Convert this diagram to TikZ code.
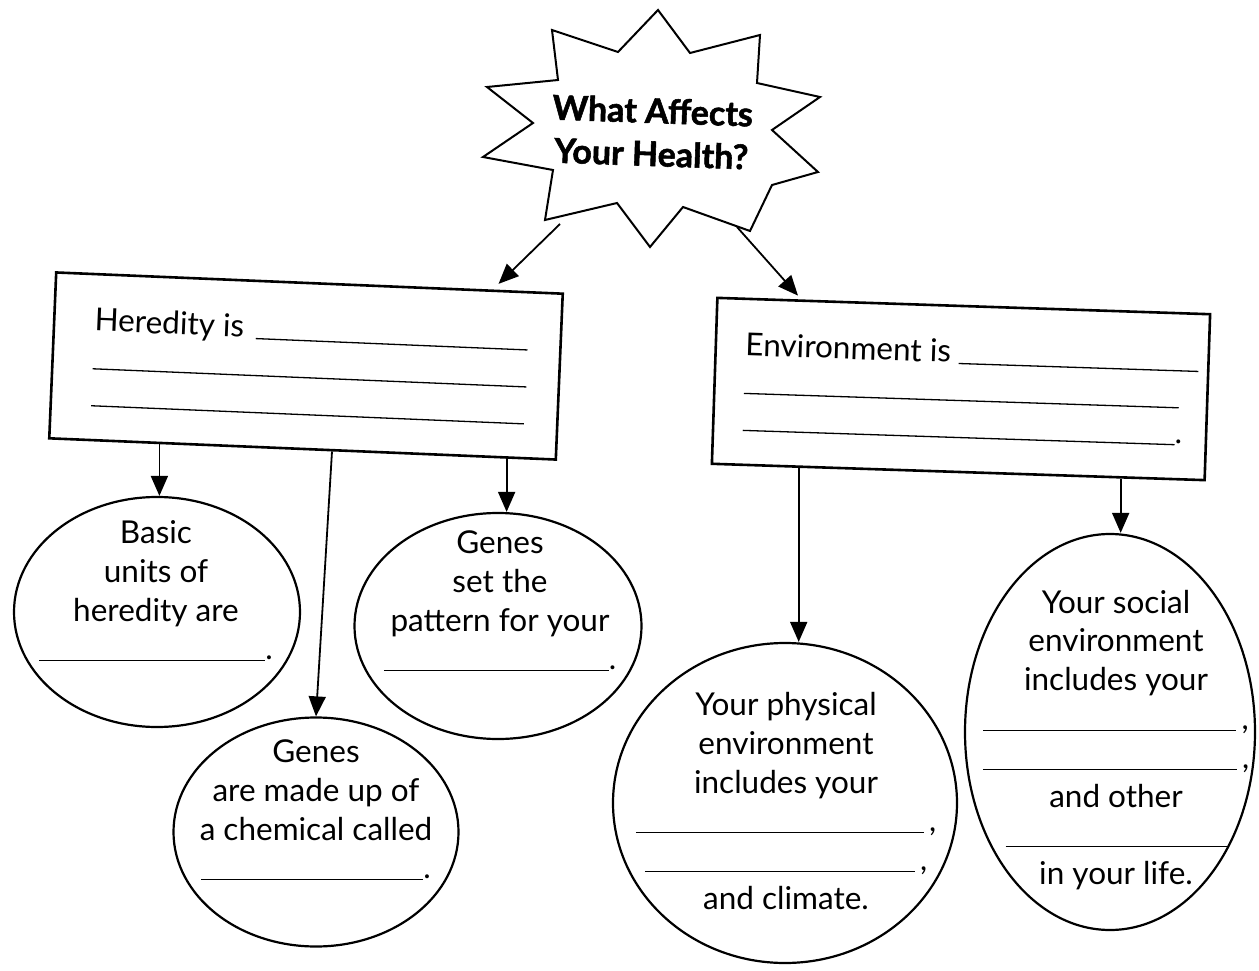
\documentclass[tikz,border=0pt]{standalone}
\usepackage{fontspec}
\setmainfont{Lato}
\usetikzlibrary{arrows.meta, calc, shapes.geometric}

% blank answer line, length in pt
\newcommand{\blank}[1]{\rule[-1.5pt]{#1pt}{1.3pt}}

\tikzset{
  topicbox/.style={
    draw, line width=2.6pt, align=left, inner sep=0pt,
    minimum height=166pt, fill=white,
    font=\fontsize{31.5}{37}\selectfont
  },
  bubble/.style={
    ellipse, draw, line width=2.2pt, inner sep=0pt
  },
  bubbletext/.style={
    align=center, inner sep=0pt,
    font=\fontsize{31.5}{38.8}\selectfont
  },
  burst/.style={
    draw, line width=2pt, line join=miter, fill=white
  },
  flow/.style={
    -{Triangle[length=20pt, width=17pt]}, line width=1.8pt
  },
}

\begin{document}
\begin{tikzpicture}[x=1pt, y=-1pt]
  \useasboundingbox (0,0) rectangle (1259,971);

  % --- title burst ---
  \draw[burst] (658,10) -- (690,53) -- (760,35) -- (757,83) -- (820,97)
    -- (772,130) -- (818,172) -- (772,185) -- (750,231) -- (683,207)
    -- (650,247) -- (617,203) -- (545,220) -- (553,170) -- (483,157)
    -- (533,123) -- (487,87) -- (558,80) -- (552,30) -- (618,52) -- cycle;
  \node[font=\fontsize{34}{43}\selectfont\bfseries\addfontfeatures{FakeBold=1.6},
    align=center, rotate=-2]
    (health) at (652,132) {What Affects\\Your Health?};
  \coordinate (starL) at (560,224);
  \coordinate (starR) at (737,227);

  % --- the two topic boxes ---
  \node[topicbox, minimum width=507pt, rotate=-2.4] (heredity) at (306,366)
    {\hspace*{8pt}Heredity is\hspace{12pt}\blank{272}\\
     \hspace*{8pt}\blank{434}\\
     \hspace*{8pt}\blank{433}};
  \node[topicbox, minimum width=493pt, rotate=-1.9] (environment) at (961,389)
    {\hspace*{20pt}Environment is\hspace{8pt}\blank{240}\\
     \hspace*{20pt}\blank{435}\\
     \hspace*{20pt}\blank{432}.};

  % --- heredity bubbles ---
  \node[bubble, minimum width=286pt, minimum height=230pt] (basic) at (157,612) {};
  \node[bubbletext] (basictxt) at (156,591)
    {Basic\\units of\\heredity are\\\blank{226}.};

  \node[bubble, minimum width=287pt, minimum height=226pt] (pattern) at (498,626) {};
  \node[bubbletext] (patterntxt) at (500,601)
    {Genes\\set the\\pattern for your\\\blank{225}.};

  \node[bubble, minimum width=285pt, minimum height=229pt] (madeup) at (316,832) {};
  \node[bubbletext] (madeuptxt) at (316,810)
    {Genes\\are made up of\\a chemical called\\\blank{222}.};

  % --- environment bubbles ---
  \node[bubble, minimum width=344pt, minimum height=320pt] (physical) at (785,803) {};
  \node[bubbletext] (physicaltxt) at (786,801)
    {Your physical\\environment\\includes your\\\blank{288}\,,\\\blank{270}\,,\\and climate.};

  \node[bubble, minimum width=290pt, minimum height=396pt] (social) at (1110,732) {};
  \node[bubbletext] (socialtxt) at (1116,740)
    {Your social\\environment\\includes your\\\blank{253}\,,\\\blank{254}\,,\\and other\\\blank{221}\\in your life.};

  % --- arrows ---
  \coordinate (h1) at ($(heredity.south west)!0.219!(heredity.south east)$);
  \coordinate (h2) at ($(heredity.south west)!0.558!(heredity.south east)$);
  \coordinate (h3) at ($(heredity.south west)!0.901!(heredity.south east)$);
  \coordinate (e1) at ($(environment.south west)!0.178!(environment.south east)$);
  \coordinate (e2) at ($(environment.south west)!0.828!(environment.south east)$);

  \draw[flow, shorten >=8pt] (starL) -- ($(heredity.north west)!0.86!(heredity.north east)$);
  \draw[flow, shorten >=5pt] (starR) -- ($(environment.north west)!0.172!(environment.north east)$);
  \draw[flow] (h1) -- (h1 |- basic.north);
  \draw[flow] (h2) -- (madeup.north);
  \draw[flow] (h3) -- (h3 |- pattern.north);
  \draw[flow] (e1) -- (e1 |- physical.north);
  \draw[flow] (e2) -- (e2 |- social.north);
\end{tikzpicture}
\end{document}
